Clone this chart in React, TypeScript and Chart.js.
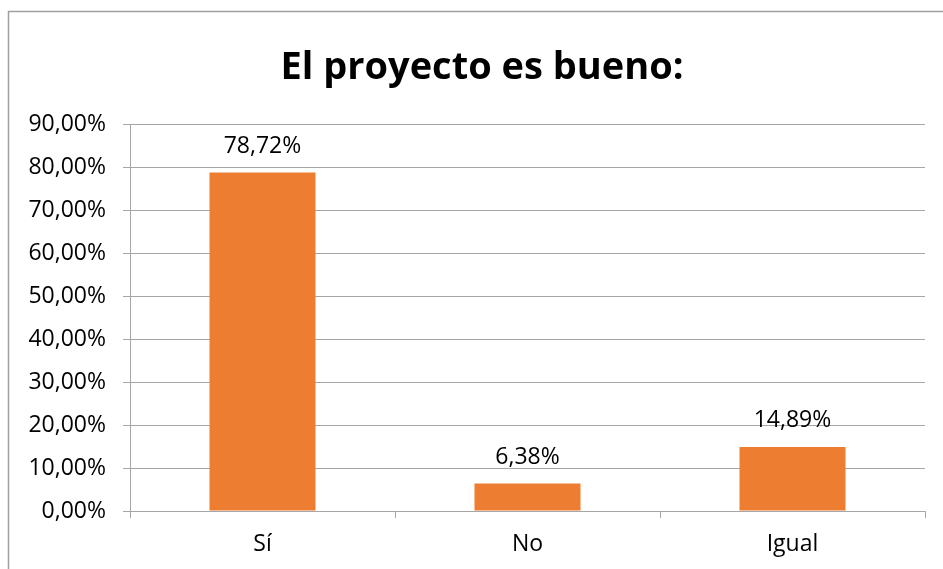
import React, { useEffect, useRef } from 'react';
import { Chart, registerables } from 'chart.js';

Chart.register(...registerables);

const TITLE = 'El proyecto es bueno:';
const categories = ['Sí', 'No', 'Igual'];
const values = [78.72, 6.38, 14.89];
const Y_MIN = 0;
const Y_MAX = 90;
const Y_STEP = 10;

const BAR_COLOR = '#ED7D31';
const GRID_COLOR = '#A6A6A6';
const TEXT_COLOR = '#000000';
const FONT = '"Open Sans", "Liberation Sans", sans-serif';

const fmt = (v: number) => v.toFixed(2).replace('.', ',') + '%';

const framePlugin = {
  id: 'frame',
  beforeDraw(chart: any) {
    const ctx = chart.ctx;
    ctx.save();
    ctx.fillStyle = '#ffffff';
    ctx.fillRect(0, 0, chart.width, chart.height);
    ctx.strokeStyle = '#A0A0A0';
    ctx.lineWidth = 1.5;
    ctx.strokeRect(8.5, 11.5, chart.width + 20, chart.height + 20);
    ctx.restore();
  },
};

const titlePlugin = {
  id: 'customTitle',
  afterDraw(chart: any) {
    const ctx = chart.ctx;
    ctx.save();
    ctx.font = `bold 38px ${FONT}`;
    ctx.fillStyle = TEXT_COLOR;
    ctx.textAlign = 'center';
    ctx.textBaseline = 'alphabetic';
    ctx.fillText(TITLE, 482, 79);
    ctx.restore();
  },
};

const labelPlugin = {
  id: 'barLabels',
  afterDatasetsDraw(chart: any) {
    const ctx = chart.ctx;
    const meta = chart.getDatasetMeta(0);
    ctx.save();
    ctx.font = `23px ${FONT}`;
    ctx.fillStyle = TEXT_COLOR;
    ctx.textAlign = 'center';
    ctx.textBaseline = 'alphabetic';
    meta.data.forEach((bar: any, i: number) => {
      ctx.fillText(fmt(values[i]), bar.x, bar.y - 20);
    });
    ctx.restore();
  },
};

export default function App() {
  const ref = useRef<HTMLCanvasElement | null>(null);

  useEffect(() => {
    if (!ref.current) return;
    const chart = new Chart(ref.current, {
      type: 'bar',
      data: {
        labels: categories,
        datasets: [
          {
            data: values,
            backgroundColor: BAR_COLOR,
            borderWidth: 0,
            categoryPercentage: 1,
            barPercentage: 0.4,
          },
        ],
      },
      options: {
        responsive: false,
        animation: false,
        layout: { padding: { left: 0, right: 18, top: 124, bottom: 0 } },
        plugins: {
          legend: { display: false },
          title: { display: false },
          tooltip: { enabled: false },
        },
        scales: {
          x: {
            afterFit(scale: any) {
              scale.height = 58;
            },
            grid: {
              display: true,
              drawOnChartArea: false,
              drawTicks: true,
              tickLength: 7,
              color: GRID_COLOR,
              offset: true,
            },
            border: { display: true, color: GRID_COLOR, width: 1 },
            ticks: {
              color: TEXT_COLOR,
              font: { family: FONT, size: 23 },
              padding: 13,
            },
          },
          y: {
            min: Y_MIN,
            max: Y_MAX,
            afterFit(scale: any) {
              scale.width = 130;
            },
            grid: {
              color: GRID_COLOR,
              drawTicks: true,
              tickLength: 7,
            },
            border: { display: true, color: GRID_COLOR, width: 1 },
            ticks: {
              stepSize: Y_STEP,
              color: TEXT_COLOR,
              font: { family: FONT, size: 23 },
              padding: 17,
              callback: (v: any) => fmt(Number(v)),
            },
          },
        },
      },
      plugins: [framePlugin, titlePlugin, labelPlugin],
    });
    return () => chart.destroy();
  }, []);

  return (
    <div style={{ position: 'fixed', left: 0, top: 0, width: 943, height: 569 }}>
      <canvas ref={ref} width={943} height={569} style={{ display: 'block' }} />
    </div>
  );
}
